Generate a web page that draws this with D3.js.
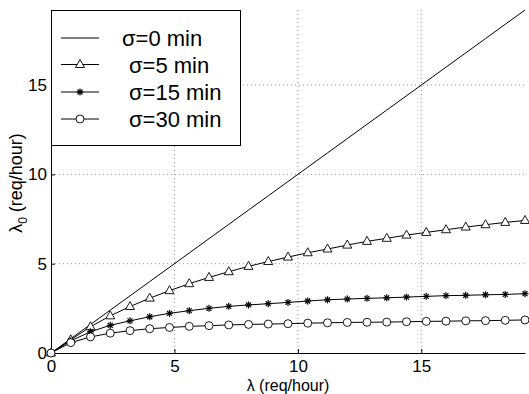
<!DOCTYPE html>
<html>
<head>
<meta charset="utf-8">
<script src="https://cdn.jsdelivr.net/npm/d3@7"></script>
<style>
  body { margin: 0; background: #fff; }
  text { font-family: "Liberation Sans", Arial, sans-serif; fill: #000; }
</style>
</head>
<body>
<div id="chart"></div>
<script>
// arrival rate lambda (req/hour), one marker every 0.8
var lambda = [0, 0.8, 1.6, 2.4, 3.2, 4.0, 4.8, 5.6, 6.4, 7.2, 8.0, 8.8, 9.6, 10.4,
              11.2, 12.0, 12.8, 13.6, 14.4, 15.2, 16.0, 16.8, 17.6, 18.4, 19.2]

// lambda_0 for each sigma
var sigma0 = [0, 0.8, 1.6, 2.4, 3.2, 4.0, 4.8, 5.6, 6.4, 7.2, 8.0, 8.8, 9.6, 10.4,
              11.2, 12.0, 12.8, 13.6, 14.4, 15.2, 16.0, 16.8, 17.6, 18.4, 19.2]
var sigma5 = [0, 0.74, 1.47, 2.08, 2.6, 3.07, 3.49, 3.88, 4.23, 4.55, 4.85, 5.12, 5.37,
              5.61, 5.82, 6.04, 6.25, 6.42, 6.6, 6.75, 6.9, 7.05, 7.18, 7.31, 7.42]
var sigma15 = [0, 0.68, 1.19, 1.55, 1.8, 2.03, 2.22, 2.37, 2.5, 2.61, 2.69, 2.76, 2.83,
               2.91, 2.98, 3.02, 3.06, 3.09, 3.13, 3.17, 3.21, 3.23, 3.26, 3.28, 3.32]
var sigma30 = [0, 0.58, 0.9, 1.11, 1.25, 1.36, 1.43, 1.49, 1.53, 1.57, 1.6, 1.62, 1.64,
               1.67, 1.69, 1.71, 1.72, 1.73, 1.75, 1.77, 1.78, 1.8, 1.81, 1.83, 1.85]

var seriesNames = ['\u03c3=0 min', '\u03c3=5 min', '\u03c3=15 min', '\u03c3=30 min']
var seriesMarkers = ['none', 'triangle', 'star', 'circle']
var xTicks = [0, 5, 10, 15]
var yTicks = [0, 5, 10, 15]

var width = 529, height = 394
var margin = {left: 51, right: 4, top: 10, bottom: 41}

var svg = d3.select('#chart').append('svg')
    .attr('width', width)
    .attr('height', height)

var x = d3.scaleLinear().domain([0, 19.2]).range([margin.left, width - margin.right])
var y = d3.scaleLinear().domain([0, 19.2]).range([height - margin.bottom, margin.top])

// dotted grid
svg.append('g').selectAll('line').data(xTicks.slice(1)).join('line')
    .attr('x1', d => x(d)).attr('x2', d => x(d))
    .attr('y1', y(19.2)).attr('y2', y(0))
    .attr('stroke', '#999').attr('stroke-dasharray', '1,3')
svg.append('g').selectAll('line').data(yTicks.slice(1)).join('line')
    .attr('y1', d => y(d)).attr('y2', d => y(d))
    .attr('x1', x(0)).attr('x2', x(19.2))
    .attr('stroke', '#999').attr('stroke-dasharray', '1,3')

// axes, ticks pointing inward
var xAxis = svg.append('g')
    .attr('transform', 'translate(0,' + y(0) + ')')
    .call(d3.axisBottom(x).tickValues(xTicks).tickSizeInner(-4).tickSizeOuter(0).tickPadding(7))
var yAxis = svg.append('g')
    .attr('transform', 'translate(' + x(0) + ',0)')
    .call(d3.axisLeft(y).tickValues(yTicks).tickSizeInner(-4).tickSizeOuter(0).tickPadding(4))
svg.selectAll('.domain, .tick line').attr('stroke', '#000')
svg.selectAll('.tick text').attr('font-size', '17px').attr('fill', '#000')
    .attr('font-family', '"Liberation Sans", Arial, sans-serif')

// axis labels
svg.append('text')
    .attr('x', 288).attr('y', 390.5)
    .attr('text-anchor', 'middle')
    .attr('font-size', '16px')
    .text('\u03bb (req/hour)')
var yLab = svg.append('text')
    .attr('transform', 'translate(22,183) rotate(-90)')
    .attr('text-anchor', 'middle')
    .attr('font-size', '18px')
yLab.append('tspan').text('\u03bb')
yLab.append('tspan').attr('font-size', '12px').attr('dy', 5).text('0')
yLab.append('tspan').attr('dy', -5).text(' (req/hour)')

var allSeries = [sigma0, sigma5, sigma15, sigma30]

var line = d3.line().x((d, i) => x(lambda[i])).y(d => y(d))

function drawMarker(g, kind, cx, cy) {
    if (kind == 'triangle') {
        g.append('path')
            .attr('d', 'M' + cx + ',' + (cy - 5) + 'L' + (cx + 4.5) + ',' + (cy + 3) + 'L' + (cx - 4.5) + ',' + (cy + 3) + 'Z')
            .attr('fill', '#fff').attr('stroke', '#000').attr('stroke-width', 0.9)
    } else if (kind == 'circle') {
        g.append('circle').attr('cx', cx).attr('cy', cy).attr('r', 4)
            .attr('fill', '#fff').attr('stroke', '#000').attr('stroke-width', 0.9)
    } else if (kind == 'star') {
        var r = 3.5
        for (var k = 0; k < 4; k++) {
            var a = k * Math.PI / 4
            g.append('line')
                .attr('x1', cx - r * Math.cos(a)).attr('y1', cy - r * Math.sin(a))
                .attr('x2', cx + r * Math.cos(a)).attr('y2', cy + r * Math.sin(a))
                .attr('stroke', '#000').attr('stroke-width', 1.2)
        }
    }
}

var plot = svg.append('g')
allSeries.forEach(function(s, si) {
    plot.append('path')
        .attr('d', line(s))
        .attr('fill', 'none')
        .attr('stroke', '#000')
        .attr('stroke-width', 1)
    if (seriesMarkers[si] != 'none') {
        var mg = plot.append('g')
        s.forEach(function(v, i) {
            drawMarker(mg, seriesMarkers[si], x(lambda[i]), y(v))
        })
    }
})

// legend
var legend = svg.append('g')
legend.append('rect')
    .attr('x', 51.5).attr('y', 10.5).attr('width', 189).attr('height', 135)
    .attr('fill', '#fff').attr('stroke', '#000')
var rowY = [38, 64.5, 92, 119]
var textX = [122, 129, 129, 129]
seriesNames.forEach(function(name, i) {
    legend.append('line')
        .attr('x1', 61).attr('x2', 99).attr('y1', rowY[i]).attr('y2', rowY[i])
        .attr('stroke', '#000')
    drawMarker(legend, seriesMarkers[i], 80, rowY[i])
    legend.append('text')
        .attr('x', textX[i]).attr('y', rowY[i] + 8)
        .attr('font-size', '22px')
        .text(name)
})
</script>
</body>
</html>
